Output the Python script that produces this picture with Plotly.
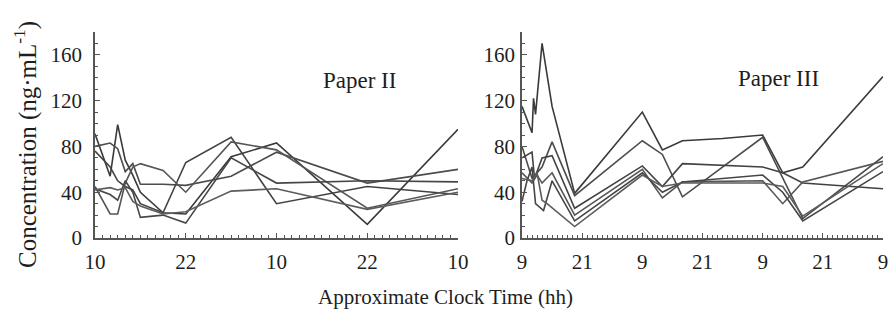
import plotly.graph_objects as go

# ---- Paper II: hours after 10:00, concentration (ng/mL) per subject ----
p2_times = [0, 2, 3, 4, 5, 6, 9, 12, 18, 24, 36, 48]
p2_s1 = [91, 54, 99, 68, 55, 40, 22, 21, 71, 83, 12, 95]
p2_s2 = [80, 83, 78, 58, 65, 47, 47, 46, 54, 75, 48, 60]
p2_s3 = [76, 62, 50, 45, 42, 30, 22, 66, 88, 30, 45, 38]
p2_s4 = [45, 21, 21, 48, 62, 65, 59, 40, 84, 77, 26, 43]
p2_s5 = [43, 38, 33, 50, 40, 18, 20, 13, 70, 48, 50, 49]
p2_s6 = [42, 44, 42, 44, 32, 28, 21, 23, 41, 43, 25, 40]
p2_series = [p2_s1, p2_s2, p2_s3, p2_s4, p2_s5, p2_s6]
p2_tickvals = [0, 12, 24, 36, 48]
p2_ticktext = ["10", "22", "10", "22", "10"]

# ---- Paper III: hours after 09:00, concentration (ng/mL) per subject ----
p3_t1 = [0, 2, 2.3, 2.7, 4, 6, 10.5, 24, 28, 32, 40, 48, 52, 56, 72]
p3_v1 = [115, 92, 122, 108, 170, 115, 39, 110, 77, 85, 87, 90, 57, 62, 141]
p3_t2 = [0, 2, 4, 6, 10.5, 24, 28, 32, 48, 56, 72]
p3_v2 = [80, 52, 62, 84, 37, 85, 73, 36, 88, 17, 71]
p3_t3 = [0, 2, 2.5, 4, 6, 10.5, 24, 28, 32, 48, 52, 56, 72]
p3_v3 = [70, 75, 52, 70, 72, 26, 63, 45, 65, 62, 57, 48, 43]
p3_t4 = [0, 2, 3, 4, 6, 10.5, 24, 28, 32, 48, 52, 56, 72]
p3_v4 = [57, 48, 55, 48, 57, 20, 60, 35, 49, 50, 30, 49, 67]
p3_t5 = [0, 1, 2, 2.7, 4.3, 6, 10.5, 24, 28, 32, 48, 52, 56, 72]
p3_v5 = [32, 50, 62, 30, 24, 50, 15, 57, 40, 49, 55, 40, 15, 58]
p3_t6 = [0, 2, 3, 4, 5, 10.5, 24, 28, 32, 48, 52, 56, 72]
p3_v6 = [52, 50, 57, 33, 30, 10, 55, 45, 48, 48, 45, 19, 65]
p3_series = [(p3_t1, p3_v1), (p3_t2, p3_v2), (p3_t3, p3_v3),
             (p3_t4, p3_v4), (p3_t5, p3_v5), (p3_t6, p3_v6)]
p3_tickvals = [0, 12, 24, 36, 48, 60, 72]
p3_ticktext = ["9", "21", "9", "21", "9", "21", "9"]

y_tickvals = [0, 40, 80, 120, 160]

line_colors = ["#3a3a3a", "#4c4c4c", "#424242", "#555555", "#464646", "#5c5c5c"]
FONT = "Liberation Serif, Times New Roman, serif"
TEXT_COLOR = "#1e1e1e"
AXIS_COLOR = "#555555"

fig = go.Figure()

for i, vals in enumerate(p2_series):
    fig.add_trace(go.Scatter(x=p2_times, y=vals, mode="lines",
                             line=dict(color=line_colors[i], width=1.6),
                             xaxis="x", yaxis="y", showlegend=False))

for i, (t, vals) in enumerate(p3_series):
    fig.add_trace(go.Scatter(x=t, y=vals, mode="lines",
                             line=dict(color=line_colors[i], width=1.6),
                             xaxis="x2", yaxis="y2", showlegend=False))

W, H = 889, 322


def px_x(p):
    return p / W


def px_y(p):
    return (H - p) / H


common_x = dict(showline=True, linecolor=AXIS_COLOR, linewidth=1.6,
                ticks="inside", ticklen=5, tickcolor=AXIS_COLOR, tickwidth=1,
                showgrid=False, zeroline=False, automargin=False,
                tickfont=dict(family=FONT, size=21, color=TEXT_COLOR),
                minor=dict(ticks="inside", ticklen=3, dtick=1, tickcolor=AXIS_COLOR,
                           showgrid=False))
common_y = dict(showline=True, linecolor=AXIS_COLOR, linewidth=1.6,
                ticks="inside", ticklen=5, tickcolor=AXIS_COLOR, tickwidth=1,
                showgrid=False, zeroline=False, range=[0, 180], automargin=False,
                tickvals=y_tickvals,
                tickfont=dict(family=FONT, size=21, color=TEXT_COLOR),
                minor=dict(ticks="inside", ticklen=3, dtick=10, tickcolor=AXIS_COLOR,
                           showgrid=False))

y_dom = [px_y(238), px_y(32)]

fig.update_layout(
    width=W, height=H, autosize=False,
    margin=dict(l=0, r=0, t=0, b=0, pad=0),
    paper_bgcolor="white", plot_bgcolor="white",
    xaxis=dict(common_x, domain=[px_x(95), px_x(458)], range=[0, 48],
               tickvals=p2_tickvals, ticktext=p2_ticktext, anchor="y",
               ticklabelstandoff=4),
    yaxis=dict(common_y, domain=y_dom, anchor="x", ticklabelstandoff=7),
    xaxis2=dict(common_x, domain=[px_x(522), px_x(883)], range=[0, 72],
                tickvals=p3_tickvals, ticktext=p3_ticktext, anchor="y2",
                ticklabelstandoff=4),
    yaxis2=dict(common_y, domain=y_dom, anchor="x2", ticklabelstandoff=1),
    annotations=[
        dict(text="Paper II", x=px_x(359), y=px_y(80), xref="paper", yref="paper",
             xanchor="center", yanchor="middle", showarrow=False,
             font=dict(family=FONT, size=23, color=TEXT_COLOR)),
        dict(text="Paper III", x=px_x(778), y=px_y(79), xref="paper", yref="paper",
             xanchor="center", yanchor="middle", showarrow=False,
             font=dict(family=FONT, size=23, color=TEXT_COLOR)),
        dict(text="Concentration (ng·mL<sup>-1</sup>)", x=px_x(25), y=px_y(145),
             xref="paper", yref="paper", xanchor="center", yanchor="middle",
             showarrow=False, textangle=-90,
             font=dict(family=FONT, size=25, color=TEXT_COLOR)),
        dict(text="Approximate Clock Time (hh)", x=px_x(446), y=px_y(297),
             xref="paper", yref="paper", xanchor="center", yanchor="middle",
             showarrow=False, font=dict(family=FONT, size=21, color=TEXT_COLOR)),
    ],
)

fig.write_html("out.html")
